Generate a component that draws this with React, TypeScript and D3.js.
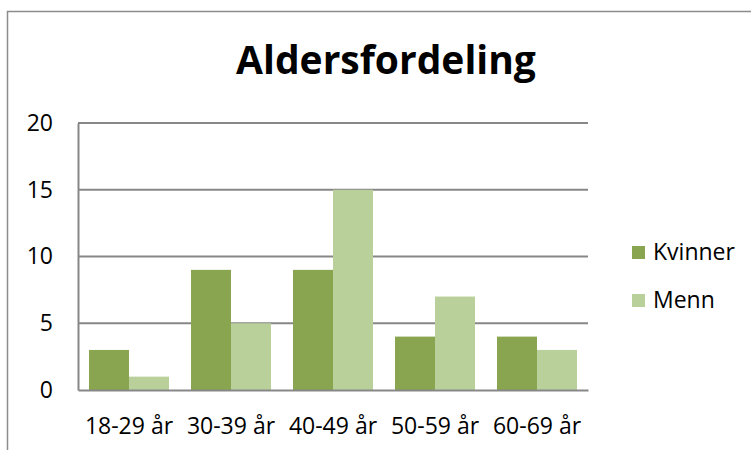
import React, { useRef, useEffect } from 'react';
import * as d3 from 'd3';

const kategorier = ['18-29 år', '30-39 år', '40-49 år', '50-59 år', '60-69 år'];
const serier = ['Kvinner', 'Menn'];
const kvinner = [3, 9, 9, 4, 4];
const menn = [1, 5, 15, 7, 3];
const yTicks = [0, 5, 10, 15, 20];
const farger = ['#8aa54f', '#bad09a'];

const App: React.FC = () => {
  const svgRef = useRef<SVGSVGElement>(null);

  useEffect(() => {
    if (!svgRef.current) return;
    const W = 751;
    const H = 450;
    const plot = { left: 78, right: 588, top: 123, bottom: 390 };
    const font = '"Open Sans", sans-serif';

    d3.select(svgRef.current).selectAll('*').remove();
    const svg = d3.select(svgRef.current).attr('width', W).attr('height', H);

    // ramme rundt diagrammet (kun topp og venstre synlig)
    svg.append('path')
      .attr('d', `M7.5,${H} V11.5 H${W}`)
      .attr('fill', 'none')
      .attr('stroke', '#8c8c8c')
      .attr('stroke-width', 1.5);

    // tittel
    svg.append('text')
      .attr('x', 386)
      .attr('y', 74)
      .attr('text-anchor', 'middle')
      .style('font-family', font)
      .style('font-weight', 'bold')
      .style('font-size', '39px')
      .attr('fill', '#000')
      .text('Aldersfordeling');

    // skalaer
    const x0 = d3.scaleBand<string>()
      .domain(kategorier)
      .range([plot.left, plot.right])
      .paddingInner(0.2157)
      .paddingOuter(0.1078);

    const x1 = d3.scaleBand<string>()
      .domain(serier)
      .range([0, x0.bandwidth()]);

    const y = d3.scaleLinear()
      .domain([0, 20])
      .range([plot.bottom, plot.top]);

    // rutenett
    svg.append('g')
      .selectAll('line')
      .data(yTicks.filter(t => t > 0))
      .enter()
      .append('line')
      .attr('x1', plot.left)
      .attr('x2', plot.right)
      .attr('y1', d => y(d))
      .attr('y2', d => y(d))
      .attr('stroke', '#878787')
      .attr('stroke-width', 2);

    // søyler
    const verdier = [kvinner, menn];
    const grupper = svg.append('g')
      .selectAll('g')
      .data(kategorier)
      .enter()
      .append('g')
      .attr('transform', d => `translate(${x0(d)},0)`);

    grupper.selectAll('rect')
      .data((_, i) => serier.map((s, j) => ({ s, v: verdier[j][i], j })))
      .enter()
      .append('rect')
      .attr('x', d => x1(d.s) as number)
      .attr('y', d => y(d.v))
      .attr('width', x1.bandwidth())
      .attr('height', d => y(0) - y(d.v))
      .attr('fill', d => farger[d.j]);

    // akser
    const yAxis = svg.append('g')
      .attr('transform', `translate(${plot.left},0)`)
      .call(d3.axisLeft(y).tickValues(yTicks).tickSize(0).tickPadding(25));
    yAxis.select('.domain').attr('stroke', '#878787').attr('stroke-width', 2);
    yAxis.selectAll('text')
      .style('font-family', font)
      .style('font-size', '23px')
      .attr('fill', '#000');

    const xAxis = svg.append('g')
      .attr('transform', `translate(0,${plot.bottom})`)
      .call(d3.axisBottom(x0).tickSize(0).tickPadding(28));
    xAxis.select('.domain').attr('stroke', '#878787').attr('stroke-width', 2);
    xAxis.selectAll('text')
      .style('font-family', font)
      .style('font-size', '23px')
      .attr('fill', '#000');

    // legende
    const legend = svg.append('g');
    serier.forEach((s, i) => {
      legend.append('rect')
        .attr('x', 632)
        .attr('y', 246 + i * 48)
        .attr('width', 13)
        .attr('height', 13)
        .attr('fill', farger[i]);
      legend.append('text')
        .attr('x', 653)
        .attr('y', 260 + i * 48)
        .style('font-family', font)
        .style('font-size', '23px')
        .attr('fill', '#000')
        .text(s);
    });
  }, []);

  return <svg ref={svgRef} style={{ position: 'absolute', left: 0, top: 0 }} />;
};

export default App;
